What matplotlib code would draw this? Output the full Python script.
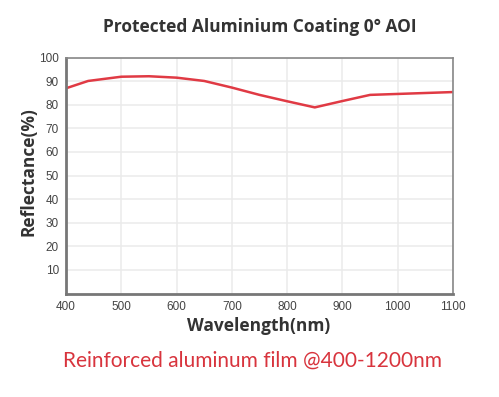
import matplotlib
matplotlib.use("Agg")
import matplotlib.pyplot as plt

wavelength = [400, 440, 500, 550, 600, 650, 700, 750, 800, 850, 900, 950, 1000, 1050, 1100]
reflectance = [87.0, 90.1, 91.9, 92.1, 91.5, 90.1, 87.3, 84.2, 81.5, 78.9, 81.6, 84.2, 84.6, 85.0, 85.4]
xticks = [400, 500, 600, 700, 800, 900, 1000, 1100]
yticks = [10, 20, 30, 40, 50, 60, 70, 80, 90, 100]

title = "Protected Aluminium Coating 0° AOI"
xlabel = "Wavelength(nm)"
ylabel = "Reflectance(%)"
caption = "Reinforced aluminum film @400-1200nm"

W, H = 499, 397
fig = plt.figure(figsize=(W / 100, H / 100), dpi=100)
ax = fig.add_axes([66 / W, 1 - 293.6 / H, (453 - 66) / W, (293.6 - 57.6) / H])

ax.plot(wavelength, reflectance, color="#e03a44", lw=1.8, solid_joinstyle="round")
ax.set_xlim(400, 1100)
ax.set_ylim(0, 100)
ax.set_xticks(xticks)
ax.set_yticks(yticks)
ax.grid(True, color="#ebebeb", lw=1.1)
ax.set_axisbelow(True)
ax.tick_params(length=0, labelsize=8.5, labelcolor="#444444", pad=5)
for lab in ax.get_xticklabels() + ax.get_yticklabels():
    lab.set_family("Liberation Sans")
for s in ["left", "bottom"]:
    ax.spines[s].set_color("#777777")
    ax.spines[s].set_linewidth(2.0)
for s in ["top", "right"]:
    ax.spines[s].set_color("#888888")
    ax.spines[s].set_linewidth(1.2)

fig.text(260 / W, 1 - 27 / H, title, ha="center", va="center", fontsize=12.5,
         fontweight="bold", family="Open Sans", color="#333333")
fig.text(259 / W, 1 - 326 / H, xlabel, ha="center", va="center", fontsize=12.5,
         fontweight="bold", family="Open Sans", color="#333333")
fig.text(28 / W, 1 - 172 / H, ylabel, ha="center", va="center", fontsize=12.5,
         fontweight="bold", family="Open Sans", color="#333333", rotation=90)
fig.text(253 / W, 1 - 361 / H, caption, ha="center", va="center", fontsize=15,
         family="Lato", color="#d8343d")

fig.savefig("out.png", dpi=100)
